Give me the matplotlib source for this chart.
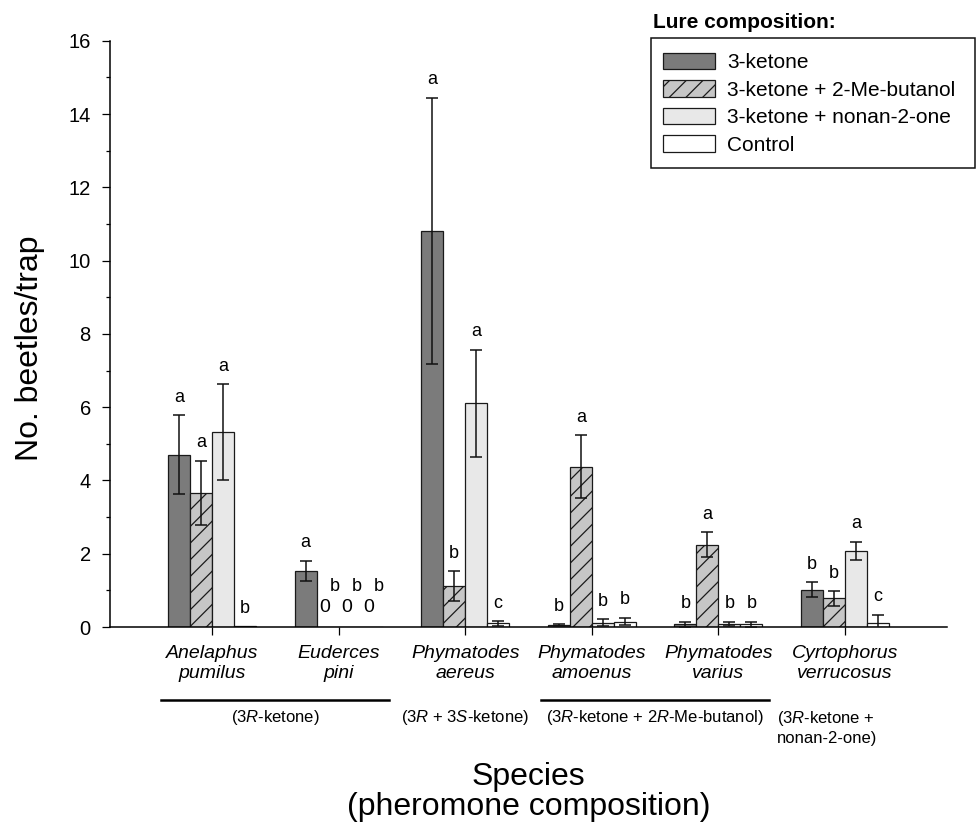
import numpy as np
import matplotlib
matplotlib.use('Agg')
import matplotlib.pyplot as plt
import matplotlib.transforms as mtransforms
from matplotlib.patches import Rectangle

plt.rcParams['font.family'] = ['Liberation Sans', 'DejaVu Sans']
plt.rcParams['mathtext.fontset'] = 'custom'
plt.rcParams['mathtext.rm'] = 'Liberation Sans'
plt.rcParams['mathtext.it'] = 'Liberation Sans:italic'
plt.rcParams['hatch.linewidth'] = 0.9
plt.rcParams['hatch.color'] = '#1a1a1a'

# ---- data ----
species = ['Anelaphus\npumilus', 'Euderces\npini', 'Phymatodes\naereus',
           'Phymatodes\namoenus', 'Phymatodes\nvarius', 'Cyrtophorus\nverrucosus']
treatments = ['3-ketone', '3-ketone + 2-Me-butanol', '3-ketone + nonan-2-one', 'Control']

ketone          = [4.70, 1.53, 10.82, 0.05, 0.08, 1.02]
ketone_butanol  = [3.66, 0.00, 1.12, 4.37, 2.25, 0.78]
ketone_nonanone = [5.31, 0.00, 6.10, 0.12, 0.08, 2.07]
control         = [0.02, 0.00, 0.10, 0.15, 0.08, 0.10]

ketone_se          = [1.08, 0.28, 3.63, 0.03, 0.07, 0.20]
ketone_butanol_se  = [0.87, 0.00, 0.40, 0.86, 0.34, 0.20]
ketone_nonanone_se = [1.31, 0.00, 1.46, 0.09, 0.06, 0.25]
control_se         = [0.00, 0.00, 0.06, 0.10, 0.07, 0.24]

ketone_letters          = ['a', 'a', 'a', 'b', 'b', 'b']
ketone_butanol_letters  = ['a', 'b', 'b', 'a', 'a', 'b']
ketone_nonanone_letters = ['a', 'b', 'a', 'b', 'b', 'a']
control_letters         = ['b', 'b', 'c', 'b', 'b', 'c']

# pheromone composition groups: (first species index, last species index, label)
pheromone_groups = [
  (0, 1, '(3$\\mathit{R}$-ketone)'),
  (2, 2, '(3$\\mathit{R}$ + 3$\\mathit{S}$-ketone)'),
  (3, 4, '(3$\\mathit{R}$-ketone + 2$\\mathit{R}$-Me-butanol)'),
  (5, 5, '(3$\\mathit{R}$-ketone +\nnonan-2-one)'),
]

means = [ketone, ketone_butanol, ketone_nonanone, control]
errors = [ketone_se, ketone_butanol_se, ketone_nonanone_se, control_se]
letters = [ketone_letters, ketone_butanol_letters, ketone_nonanone_letters, control_letters]
colors = ['#7b7b7b', '#c6c6c6', '#e8e8e8', '#ffffff']
hatches = [None, '//', None, None]

# ---- figure ----
fig = plt.figure(figsize=(9.76, 8.26), dpi=100)
ax = fig.add_axes([0.1127, 0.2409, 0.8576, 0.7098])

x = np.arange(len(species))
bar_width = 0.174
offsets = (np.arange(4) - 1.5) * bar_width

for i in range(4):
  xpos = x + offsets[i]
  ax.bar(xpos, means[i], width=bar_width, color=colors[i], edgecolor='#1a1a1a',
         linewidth=0.9, hatch=hatches[i], label=treatments[i], zorder=2)
  m = np.array(means[i])
  e = np.array(errors[i])
  has_err = e > 0
  ax.errorbar(xpos[has_err], m[has_err], yerr=e[has_err], fmt='none', ecolor='#111111',
              elinewidth=1.1, capsize=4.6, capthick=1.1, zorder=3)
  for j in range(len(species)):
    if m[j] == 0:
      # no beetles caught: write a 0 on the axis, letter above it
      ax.annotate('0', (xpos[j], 0), xytext=(-2, 14), textcoords='offset points',
                  ha='center', va='center', fontsize=14)
      ax.annotate(letters[i][j], (xpos[j], 0), xytext=(5, 29), textcoords='offset points',
                  ha='center', va='center', fontsize=13)
    else:
      ax.annotate(letters[i][j], (xpos[j], m[j] + e[j]), xytext=(0, 13),
                  textcoords='offset points', ha='center', va='center', fontsize=13)

ax.set_xlim(-0.806, 5.806)
ax.set_ylim(0, 16)
ax.set_yticks(np.arange(0, 17, 2))
ax.set_yticks(np.arange(1, 16, 2), minor=True)
ax.set_xticks(x)
ax.set_xticklabels(species, fontstyle='italic', fontsize=14, linespacing=1.22)
ax.tick_params(axis='y', which='major', length=5.8, width=0.9, labelsize=14.5, pad=8)
ax.tick_params(axis='y', which='minor', length=2.9, width=0.9)
ax.tick_params(axis='x', length=5.8, width=0.9, pad=7.5)
for side in ['top', 'right']:
  ax.spines[side].set_visible(False)
for side in ['left', 'bottom']:
  ax.spines[side].set_linewidth(1.1)

# pheromone composition lines and labels under the species names
blend = mtransforms.blended_transform_factory(ax.transData, ax.transAxes)
for first, last, label in pheromone_groups:
  if last > first:
    ax.plot([first - 0.4, last + 0.4], [-0.1245, -0.1245], color='black',
            linewidth=1.8, transform=blend, clip_on=False)
    ax.text((first + last) / 2, -0.1535, label, transform=blend, ha='center',
            va='center', fontsize=12)
  elif '\n' in label:
    ax.text(first - 0.14, -0.1405, label, transform=blend, ha='center', va='top',
            multialignment='left', fontsize=12, linespacing=1.2)
  else:
    ax.text(first, -0.1535, label, transform=blend, ha='center', va='center', fontsize=12)

ax.text(0.5, -0.281, 'Species\n(pheromone composition)', transform=ax.transAxes,
        ha='center', va='center', fontsize=23, linespacing=0.98)
fig.text(30 / 976, 1 - 348 / 826, 'No. beetles/trap', rotation=90, ha='center',
         va='center', fontsize=23)

# legend: bold title above a plain box
fig.text(653 / 976, 1 - 23 / 826, 'Lure composition:', fontweight='bold', fontsize=15,
         ha='left', va='center')
fig.patches.append(Rectangle((651 / 976, 1 - 168 / 826), (975 - 651) / 976, 130 / 826,
                             transform=fig.transFigure, fill=False, edgecolor='#111111',
                             linewidth=1.1))
leg = ax.legend(loc='upper left', bbox_to_anchor=(663 / 976, 1 - 53 / 826),
                bbox_transform=fig.transFigure, borderaxespad=0, borderpad=0, fontsize=15,
                handlelength=2.5, handleheight=0.82, handletextpad=0.58,
                labelspacing=0.39, frameon=False)

fig.savefig('out.png', dpi=100)
